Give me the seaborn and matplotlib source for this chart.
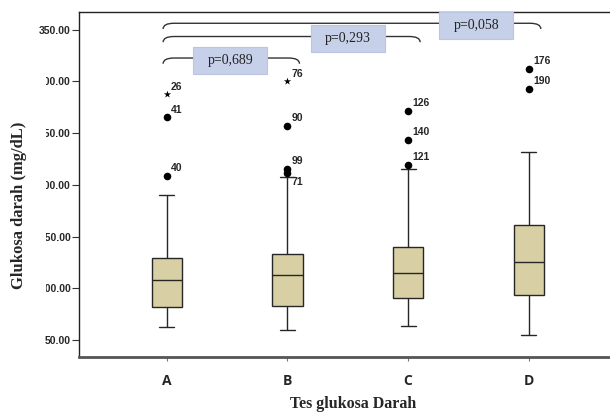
import numpy as np
import pandas as pd
import matplotlib
matplotlib.use("Agg")
import matplotlib.pyplot as plt
from matplotlib.path import Path
from matplotlib.patches import PathPatch, Rectangle
import seaborn as sns

# box summaries (mg/dL): lower whisker, Q1, median, Q3, upper whisker
groups = ["A", "B", "C", "D"]
whisker_low = [62.5, 59.3, 63.4, 54.4]
q1 = [82.1, 83.1, 90.2, 93.1]
median = [107.9, 112.8, 114.7, 125.3]
q3 = [128.9, 133.4, 140.1, 161.4]
whisker_high = [190.1, 207.3, 215.3, 232.0]

# outliers
out_group = ["A", "A", "A", "B", "B", "B", "B", "C", "C", "C", "D", "D"]
out_value = [287.5, 265.3, 208.5, 300.1, 257.2, 215.6, 211.7, 271.4, 243.3, 219.1, 312.3, 293.0]
out_label = ["26", "41", "40", "76", "90", "99", "71", "126", "140", "121", "176", "190"]
out_kind = ["extreme", "out", "out", "extreme", "out", "out", "out", "out", "out", "out", "out", "out"]

# pairwise comparisons
comp_from = ["A", "A", "A"]
comp_to = ["B", "C", "D"]
comp_p = ["p=0,689", "p=0,293", "p=0,058"]
comp_level = [322.6, 343.4, 356.2]
comp_label_pos = [0.527, 1.501, 2.565]

yticks = [50, 100, 150, 200, 250, 300, 350]

sns.set_style("white")

box_df = pd.DataFrame({
    "grup": np.repeat(groups, 5),
    "glukosa": np.ravel(np.column_stack([whisker_low, q1, median, q3, whisker_high])),
})
out_df = pd.DataFrame({"grup": out_group, "glukosa": out_value,
                       "label": out_label, "kind": out_kind})
out_df["pos"] = out_df["grup"].map({g: i for i, g in enumerate(groups)})

fig = plt.figure(figsize=(6.10, 4.12), dpi=100)
ax = fig.add_axes([79 / 610, 55 / 412, 531 / 610, 345 / 412])

sns.boxplot(data=box_df, x="grup", y="glukosa", order=groups, ax=ax,
            color="#d8d0a4", saturation=1, width=0.25, whis=(0, 100),
            showfliers=False, linecolor="#262626", linewidth=1.0)

circles = out_df[out_df["kind"] == "out"]
stars = out_df[out_df["kind"] == "extreme"]
sns.scatterplot(data=circles, x="pos", y="glukosa", ax=ax, color="black",
                s=30, linewidth=0, marker="o", legend=False, zorder=5)
sns.scatterplot(data=stars, x="pos", y="glukosa", ax=ax, color="black",
                s=30, linewidth=0, marker="*", legend=False, zorder=5)

for _, r in out_df.iterrows():
    dy = -6.5 if r["label"] == "71" else 5.5
    ax.annotate(r["label"], (r["pos"], r["glukosa"]), xytext=(3.0, dy),
                textcoords="offset points", ha="left", va="center",
                fontsize=7.5, fontweight="bold", family="Liberation Sans")

# comparison brackets
idx = {g: i for i, g in enumerate(groups)}
for a, b, p, lvl, lx in zip(comp_from, comp_to, comp_p, comp_level, comp_label_pos):
    x1 = idx[a] - 0.03
    x2 = idx[b] + 0.1
    dx, drop = 0.09, 5.5
    verts = [(x1, lvl - drop), (x1, lvl), (x1 + dx, lvl),
             (x2 - dx, lvl), (x2, lvl), (x2, lvl - drop)]
    codes = [Path.MOVETO, Path.CURVE3, Path.CURVE3,
             Path.LINETO, Path.CURVE3, Path.CURVE3]
    ax.add_patch(PathPatch(Path(verts, codes), fill=False, edgecolor="#333333",
                           linewidth=1.0, clip_on=False, zorder=3))
    bw, bh = 0.613, 26.0
    yc = lvl - 2.0
    ax.add_patch(Rectangle((lx - bw / 2, yc - bh / 2), bw, bh, facecolor="#c6d0e9",
                           edgecolor="#b9c5e2", linewidth=0.8, clip_on=False, zorder=4))
    ax.text(lx, yc, p, ha="center", va="center", fontsize=10,
            family="Liberation Serif", color="#222222", zorder=6, clip_on=False)

ax.set_xlim(-0.727, 3.673)
ax.set_ylim(33.5, 367.1)
ax.set_yticks(yticks)
ax.set_yticklabels([f"{v:.2f}" for v in yticks], fontsize=7.5,
                   fontweight="bold", family="Liberation Sans")
ax.set_xticks(range(len(groups)))
ax.set_xticklabels(groups, fontsize=10, fontweight="bold", family="Open Sans")
ax.tick_params(axis="y", direction="out", length=5, width=0.8, color="#333333",
               pad=1, left=True)
ax.tick_params(axis="x", direction="out", length=3, width=0.8, color="#777777",
               pad=9, bottom=True)
ax.set_xlabel("")
ax.set_ylabel("")

ax.spines["right"].set_visible(False)
ax.spines["left"].set_color("#222222")
ax.spines["left"].set_linewidth(1.0)
ax.spines["top"].set_color("#222222")
ax.spines["top"].set_linewidth(1.0)
ax.spines["bottom"].set_color("#555555")
ax.spines["bottom"].set_linewidth(2.0)

# the axis title sits over the first digits of the tick labels
fig.patches.append(Rectangle((0, 92 / 412), 45.5 / 610, 260 / 412,
                             transform=fig.transFigure, facecolor="white",
                             edgecolor="none", zorder=5))
fig.text(19.5 / 610, 207 / 412, "Glukosa darah (mg/dL)", rotation=90,
         ha="center", va="center", fontsize=12, fontweight="bold",
         family="Liberation Serif", zorder=10)
fig.text(353 / 610, 8 / 412, "Tes glukosa Darah", ha="center", va="center",
         fontsize=11.5, fontweight="bold", family="Liberation Serif", zorder=10)

fig.savefig("out.png", dpi=100)
